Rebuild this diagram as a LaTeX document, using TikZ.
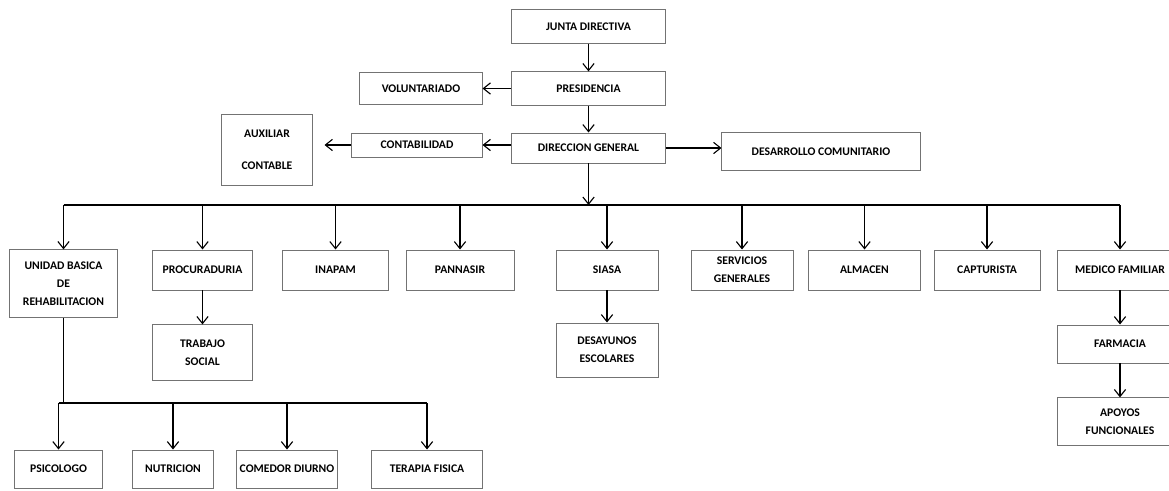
\documentclass[tikz,border=0pt]{standalone}
\usepackage{fontspec}
\setmainfont{Carlito}
\usetikzlibrary{arrows.meta}
\begin{document}
\begin{tikzpicture}[x=0.025cm, y=-0.025cm, line width=0.8pt]
        \useasboundingbox (0,0) rectangle (1169,491);
        \clip (0,0) rectangle (1169,491);
        \tikzstyle{b}=[rectangle, draw=black!55, line width=0.7pt, inner sep=2pt, align=center,
                font=\fontsize{8.3}{13}\selectfont\bfseries]
        \node[b, minimum width=3.83cm, minimum height=0.83cm] (JD) at (588.5,26.5) {JUNTA DIRECTIVA};
        \node[b, minimum width=3.83cm, minimum height=0.83cm] (PR) at (588.5,88.5) {PRESIDENCIA};
        \node[b, minimum width=3.05cm, minimum height=0.78cm] (VO) at (421,88.5) {VOLUNTARIADO};
        \node[b, minimum width=2.25cm, minimum height=1.75cm] (AC) at (267,150) {AUXILIAR\\[10pt]CONTABLE};
        \node[b, minimum width=3.25cm, minimum height=0.6cm] (CO) at (417,145) {CONTABILIDAD};
        \node[b, minimum width=3.83cm, minimum height=0.75cm] (DG) at (588.5,148) {DIRECCION GENERAL};
        \node[b, minimum width=4.95cm, minimum height=0.93cm] (DC) at (821,151.5) {DESARROLLO COMUNITARIO};

        \node[b, minimum width=2.68cm, minimum height=1.68cm] (UB) at (63.5,283.5) {UNIDAD BASICA\\DE\\REHABILITACION};
        \node[b, minimum width=2.48cm, minimum height=1cm] (PC) at (202.5,270) {PROCURADURIA};
        \node[b, minimum width=2.48cm, minimum height=1.38cm] (TS) at (202.5,352.5) {TRABAJO\\SOCIAL};
        \node[b, minimum width=2.63cm, minimum height=1cm] (IN) at (335.5,270) {INAPAM};
        \node[b, minimum width=2.7cm, minimum height=1cm] (PA) at (460,270) {PANNASIR};
        \node[b, minimum width=2.55cm, minimum height=1cm] (SI) at (607,270) {SIASA};
        \node[b, minimum width=2.55cm, minimum height=1.35cm] (DE) at (607,350) {DESAYUNOS\\ESCOLARES};
        \node[b, minimum width=2.55cm, minimum height=1cm] (SG) at (742,270) {SERVICIOS\\GENERALES};
        \node[b, minimum width=2.78cm, minimum height=1cm] (AL) at (864.5,270) {ALMACEN};
        \node[b, minimum width=2.65cm, minimum height=1cm] (CA) at (987,270) {CAPTURISTA};
        \node[b, minimum width=3.15cm, minimum height=1cm] (MF) at (1120,270) {MEDICO FAMILIAR};
        \node[b, minimum width=3.15cm, minimum height=0.95cm] (FA) at (1120,344) {FARMACIA};
        \node[b, minimum width=3.15cm, minimum height=1.18cm] (AF) at (1120,421.5) {APOYOS\\FUNCIONALES};

        \node[b, minimum width=2.18cm, minimum height=0.95cm] (PS) at (58.5,469) {PSICOLOGO};
        \node[b, minimum width=2cm, minimum height=0.95cm] (NU) at (173,469) {NUTRICION};
        \node[b, minimum width=2.5cm, minimum height=0.95cm] (CD) at (287,469) {COMEDOR DIURNO};
        \node[b, minimum width=2.75cm, minimum height=0.95cm] (TF) at (427,469) {TERAPIA FISICA};

        \coordinate (B1) at (63.5,205);
        \coordinate (B2) at (1120,205);
        \coordinate (C1) at (58.5,403);
        \coordinate (C2) at (427,403);

        \tikzstyle{arr}=[-{Straight Barb[length=5pt,width=8pt]}]
        \draw[arr] (JD)--(PR);
        \draw[arr] (PR)--(VO);
        \draw[arr] (PR)--(DG);
        \draw[arr] (CO -| DG.west)--(CO.east);
        \draw[arr, shorten >=0.3cm] (CO.west)--(CO.west -| AC.east);
        \draw[arr] (DG.east)--(DG.east -| DC.west);
        \draw[arr] (DG.south)--(DG.south |- B1);
        \draw (B1)--(B2);
        \draw[arr] (B1 -| UB)--(UB.north);
        \draw[arr] (B1 -| PC)--(PC.north);
        \draw[arr] (B1 -| IN)--(IN.north);
        \draw[arr] (B1 -| PA)--(PA.north);
        \draw[arr] (B1 -| SI)--(SI.north);
        \draw[arr] (B1 -| SG)--(SG.north);
        \draw[arr] (B1 -| AL)--(AL.north);
        \draw[arr] (B1 -| CA)--(CA.north);
        \draw[arr] (B1 -| MF)--(MF.north);
        \draw[arr] (PC)--(TS);
        \draw[arr] (SI)--(DE);
        \draw[arr] (MF)--(FA);
        \draw[arr] (FA)--(AF);
        \draw (UB.south)--(UB.south |- C1);
        \draw (C1)--(C2);
        \draw[arr] (C1 -| PS)--(PS.north);
        \draw[arr] (C1 -| NU)--(NU.north);
        \draw[arr] (C1 -| CD)--(CD.north);
        \draw[arr] (C1 -| TF)--(TF.north);
    \end{tikzpicture}
\end{document}
